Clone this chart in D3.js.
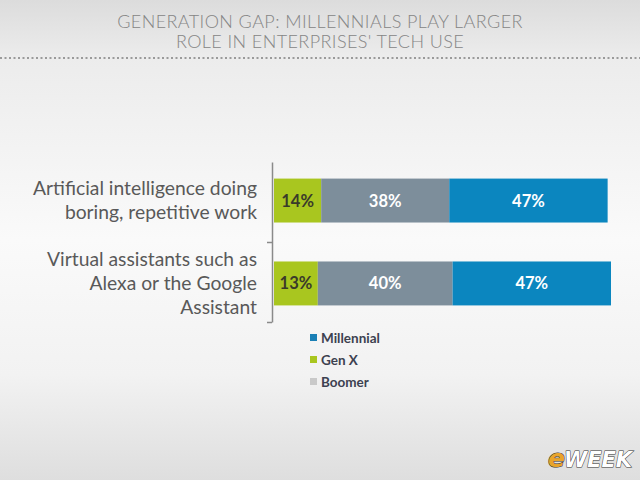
<!DOCTYPE html>
<html>
<head>
<meta charset="utf-8">
<script src="https://cdn.jsdelivr.net/npm/d3@7/dist/d3.min.js"></script>
<style>
  html, body { margin: 0; padding: 0; }
  body { width: 640px; height: 480px; overflow: hidden; }
</style>
</head>
<body>
<div class="chart"></div>
<script>
// data
const categories = [
  ['Artificial intelligence doing', 'boring, repetitive work'],
  ['Virtual assistants such as', 'Alexa or the Google', 'Assistant']
];
const seriesNames = ['Gen X', 'Boomer', 'Millennial'];
const genX = [14, 13];
const boomer = [38, 40];
const millennial = [47, 47];
const legendNames = ['Millennial', 'Gen X', 'Boomer'];
const titleLines = ['GENERATION GAP: MILLENNIALS PLAY LARGER', "ROLE IN ENTERPRISES' TECH USE"];

const colors = { 'Gen X': '#a9c61f', 'Boomer': '#7d8e9b', 'Millennial': '#0b86bf' };
const legendColors = { 'Millennial': '#1a7fb5', 'Gen X': '#a9c61f', 'Boomer': '#c9c9c9' };

const width = 640, height = 480;

const svg = d3.select('.chart')
  .append('svg')
  .attr('width', width)
  .attr('height', height);

// background
const defs = svg.append('defs');
const grad = defs.append('linearGradient')
  .attr('id', 'bg').attr('x1', 0).attr('y1', 0).attr('x2', 0).attr('y2', 1);
grad.append('stop').attr('offset', '0').attr('stop-color', '#dcdcdc');
grad.append('stop').attr('offset', '0.12').attr('stop-color', '#ececec');
grad.append('stop').attr('offset', '0.5').attr('stop-color', '#fafafa');
grad.append('stop').attr('offset', '0.78').attr('stop-color', '#f2f2f2');
grad.append('stop').attr('offset', '1').attr('stop-color', '#dedede');
svg.append('rect').attr('width', width).attr('height', height).attr('fill', 'url(#bg)');

// header
svg.append('g')
  .selectAll('text')
  .data(titleLines)
  .join('text')
  .attr('x', 320)
  .attr('y', (d, i) => 28 + i * 20)
  .attr('text-anchor', 'middle')
  .style('font-family', 'Lato, "Open Sans", sans-serif')
  .style('font-weight', 300)
  .style('font-size', '18px')
  .style('letter-spacing', '0.4px')
  .style('fill', '#858585')
  .text(d => d);

svg.append('line')
  .attr('x1', 0).attr('x2', width)
  .attr('y1', 58).attr('y2', 58)
  .style('stroke', '#9a9a9a')
  .style('stroke-width', 2)
  .style('stroke-dasharray', '2,2.5');

// stacked data
const rows = categories.map((c, i) => ({ idx: i, 'Gen X': genX[i], 'Boomer': boomer[i], 'Millennial': millennial[i] }));
const stacked = d3.stack().keys(seriesNames)(rows);

const xScale = d3.scaleLinear().domain([0, 100]).range([274, 611]);
const yScale = d3.scaleBand().domain([0, 1]).range([162, 322]).paddingInner(0.47).paddingOuter(0.2);

// axis
const yAxis = d3.axisLeft(d3.scaleLinear().domain([0, 2]).range([162, 322]))
  .tickValues([1, 2])
  .tickFormat('')
  .tickSizeInner(5)
  .tickSizeOuter(0);
svg.append('g')
  .attr('transform', 'translate(272,0)')
  .call(yAxis)
  .call(g => g.selectAll('line, path').style('stroke', '#8a8a8a').style('stroke-width', 1.5));

// bars
const chartGroup = svg.append('g');
chartGroup.selectAll('g.series')
  .data(stacked)
  .join('g')
  .attr('class', 'series')
  .style('fill', d => colors[d.key])
  .selectAll('rect')
  .data(d => d)
  .join('rect')
  .attr('x', d => xScale(d[0]))
  .attr('width', d => xScale(d[1]) - xScale(d[0]))
  .attr('y', (d, i) => yScale(i))
  .attr('height', yScale.bandwidth());

// value labels
chartGroup.selectAll('g.vlabels')
  .data(stacked)
  .join('g')
  .attr('class', 'vlabels')
  .selectAll('text')
  .data(d => d.map(v => ({ key: d.key, v })))
  .join('text')
  .attr('x', d => (xScale(d.v[0]) + xScale(d.v[1])) / 2)
  .attr('y', (d, i) => yScale(i) + yScale.bandwidth() / 2)
  .attr('text-anchor', 'middle')
  .attr('dominant-baseline', 'central')
  .style('font-family', 'Lato, "Open Sans", sans-serif')
  .style('font-weight', 'bold')
  .style('font-size', '16.5px')
  .style('fill', d => d.key === 'Gen X' ? '#3a3a2a' : '#ffffff')
  .text(d => `${d.v[1] - d.v[0]}%`);

// category labels
const catGroup = svg.append('g')
  .selectAll('text')
  .data(categories)
  .join('text')
  .attr('text-anchor', 'end')
  .style('font-family', 'Lato, "Open Sans", sans-serif')
  .style('font-size', '19.3px')
  .style('fill', '#595959');
catGroup.selectAll('tspan')
  .data((d, i) => d.map((line, j) => ({ line, j, n: d.length, i })))
  .join('tspan')
  .attr('x', 257)
  .attr('y', d => yScale(d.i) + yScale.bandwidth() / 2 + (d.j - (d.n - 1) / 2) * 24 + 6.5)
  .text(d => d.line);

// legend
const legend = svg.append('g')
  .selectAll('g')
  .data(legendNames)
  .join('g')
  .attr('transform', (d, i) => `translate(310,${338 + i * 22})`);
legend.append('rect')
  .attr('x', 0).attr('y', -4)
  .attr('width', 7).attr('height', 7)
  .style('fill', d => legendColors[d]);
legend.append('text')
  .attr('x', 11)
  .attr('y', 0)
  .attr('dominant-baseline', 'central')
  .style('font-family', 'Lato, "Open Sans", sans-serif')
  .style('font-weight', 'bold')
  .style('font-size', '13.5px')
  .style('fill', '#3c4150')
  .text(d => d);

// logo
const logo = svg.append('text')
  .attr('x', 548)
  .attr('y', 467)
  .style('font-family', '"DejaVu Sans", sans-serif')
  .style('font-weight', 'bold')
  .style('font-style', 'italic')
  .style('font-size', '21px')
  .style('stroke', '#333')
  .style('stroke-width', 1)
  .style('paint-order', 'stroke');
logo.append('tspan').style('fill', '#e9a42b').style('font-size', '25px').text('e');
logo.append('tspan').style('fill', '#ffffff').attr('dx', '-1').text('WEEK');
</script>
</body>
</html>
